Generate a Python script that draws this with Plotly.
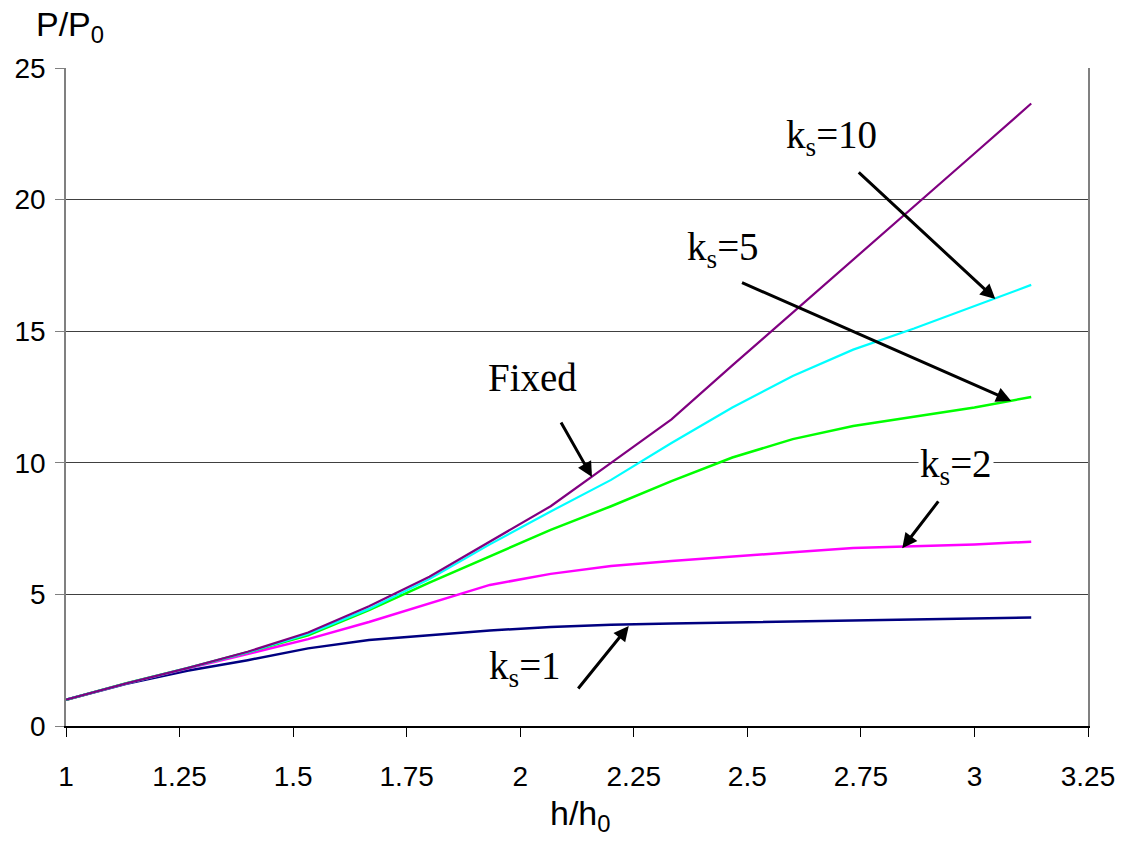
import plotly.graph_objects as go

# h/h0 sample points shared by all curves
h_ratio = [1.0, 1.133, 1.267, 1.4, 1.533, 1.667, 1.8, 1.933, 2.067, 2.2,
           2.333, 2.467, 2.6, 2.733, 2.867, 3.0, 3.125]

# P/P0 for each support stiffness
p_ks1 = [1.0, 1.6, 2.1, 2.5, 2.95, 3.27, 3.45, 3.63, 3.76, 3.85,
         3.89, 3.93, 3.97, 4.0, 4.04, 4.08, 4.12]
p_ks2 = [1.0, 1.62, 2.18, 2.75, 3.3, 3.95, 4.65, 5.36, 5.78, 6.08,
         6.27, 6.45, 6.6, 6.76, 6.82, 6.9, 7.0]
p_ks5 = [1.0, 1.63, 2.2, 2.8, 3.45, 4.4, 5.45, 6.45, 7.45, 8.35,
         9.3, 10.2, 10.9, 11.4, 11.75, 12.1, 12.5]
p_ks10 = [1.0, 1.62, 2.2, 2.8, 3.5, 4.45, 5.58, 6.9, 8.15, 9.35,
          10.75, 12.1, 13.3, 14.3, 15.1, 15.95, 16.76]
p_fixed = [1.0, 1.62, 2.2, 2.82, 3.55, 4.55, 5.67, 7.0, 8.35, 10.0,
           11.65, 13.7, 15.7, 17.7, 19.75, 21.75, 23.65]

x_ticks = [1, 1.25, 1.5, 1.75, 2, 2.25, 2.5, 2.75, 3, 3.25]
x_tick_text = ["1", "1.25", "1.5", "1.75", "2", "2.25", "2.5", "2.75", "3", "3.25"]
y_ticks = [0, 5, 10, 15, 20, 25]

series = [
    ("k<sub>s</sub>=1", p_ks1, "#000080", 2.5),
    ("k<sub>s</sub>=2", p_ks2, "#FF00FF", 2.5),
    ("k<sub>s</sub>=5", p_ks5, "#00FF00", 2.5),
    ("k<sub>s</sub>=10", p_ks10, "#00FFFF", 2.2),
    ("Fixed", p_fixed, "#800080", 2.2),
]

fig = go.Figure()
for name, ys, color, w in series:
    fig.add_trace(go.Scatter(x=h_ratio, y=ys, mode="lines", name=name,
                             line=dict(color=color, width=w)))

serif = "Liberation Serif, Times New Roman, serif"
sans = "Liberation Sans, Arial, sans-serif"

# curve labels: (text, text x, text y, arrow tail x, tail y, head x, head y, bg)
labels = [
    ("Fixed", 2.026, 13.25, 2.088, 11.59, 2.158, 9.46, None),
    ("k<sub>s</sub>=10", 2.685, 22.35, 2.742, 21.09, 3.046, 16.22, None),
    ("k<sub>s</sub>=5", 2.446, 18.1, 2.485, 16.87, 3.081, 12.35, None),
    ("k<sub>s</sub>=2", 2.96, 9.85, 2.923, 8.59, 2.841, 6.75, "white"),
    ("k<sub>s</sub>=1", 2.011, 2.2, 2.125, 1.37, 2.239, 3.8, None),
]
for text, tx, ty, ax, ay, hx, hy, bg in labels:
    fig.add_annotation(x=tx, y=ty, xref="x", yref="y", text=text,
                       showarrow=False, font=dict(family=serif, size=39, color="black"),
                       bgcolor=bg if bg else "rgba(0,0,0,0)")
    fig.add_annotation(x=hx, y=hy, ax=ax, ay=ay, xref="x", yref="y",
                       axref="x", ayref="y", text="", showarrow=True,
                       arrowhead=2, arrowsize=1.0, arrowwidth=3,
                       arrowcolor="black", standoff=0, startstandoff=0)

fig.update_layout(
    width=1127, height=845,
    margin=dict(l=66, r=37, t=68, b=119),
    paper_bgcolor="white", plot_bgcolor="white",
    showlegend=False,
    font=dict(family=sans, color="black"),
    xaxis=dict(range=[1, 3.25], tickmode="array", tickvals=x_ticks,
               ticktext=x_tick_text, showgrid=False, zeroline=False,
               showline=True, linecolor="black", linewidth=1.5,
               ticks="outside", ticklen=9, tickcolor="black",
               ticklabelstandoff=16,
               tickfont=dict(family=sans, size=28)),
    yaxis=dict(range=[0, 25], tickmode="array", tickvals=y_ticks,
               showgrid=True, gridcolor="#404040", gridwidth=1,
               zeroline=False, showline=True, linecolor="#808080",
               linewidth=1.5, mirror=True, ticks="outside", ticklen=9,
               tickcolor="#808080", ticklabelstandoff=4,
               tickfont=dict(family=sans, size=28)),
)

# axis titles
fig.add_annotation(x=-0.031, y=1.0, xref="paper", yref="paper", xanchor="left",
                   yanchor="bottom", yshift=18, text="P/P<sub>0</sub>", showarrow=False,
                   font=dict(family=sans, size=34, color="black"))
fig.add_annotation(x=0.503, y=0, xref="paper", yref="paper", xanchor="center",
                   yanchor="top", yshift=-66, text="h/h<sub>0</sub>", showarrow=False,
                   font=dict(family=sans, size=34, color="black"))

fig.write_html("out.html")
